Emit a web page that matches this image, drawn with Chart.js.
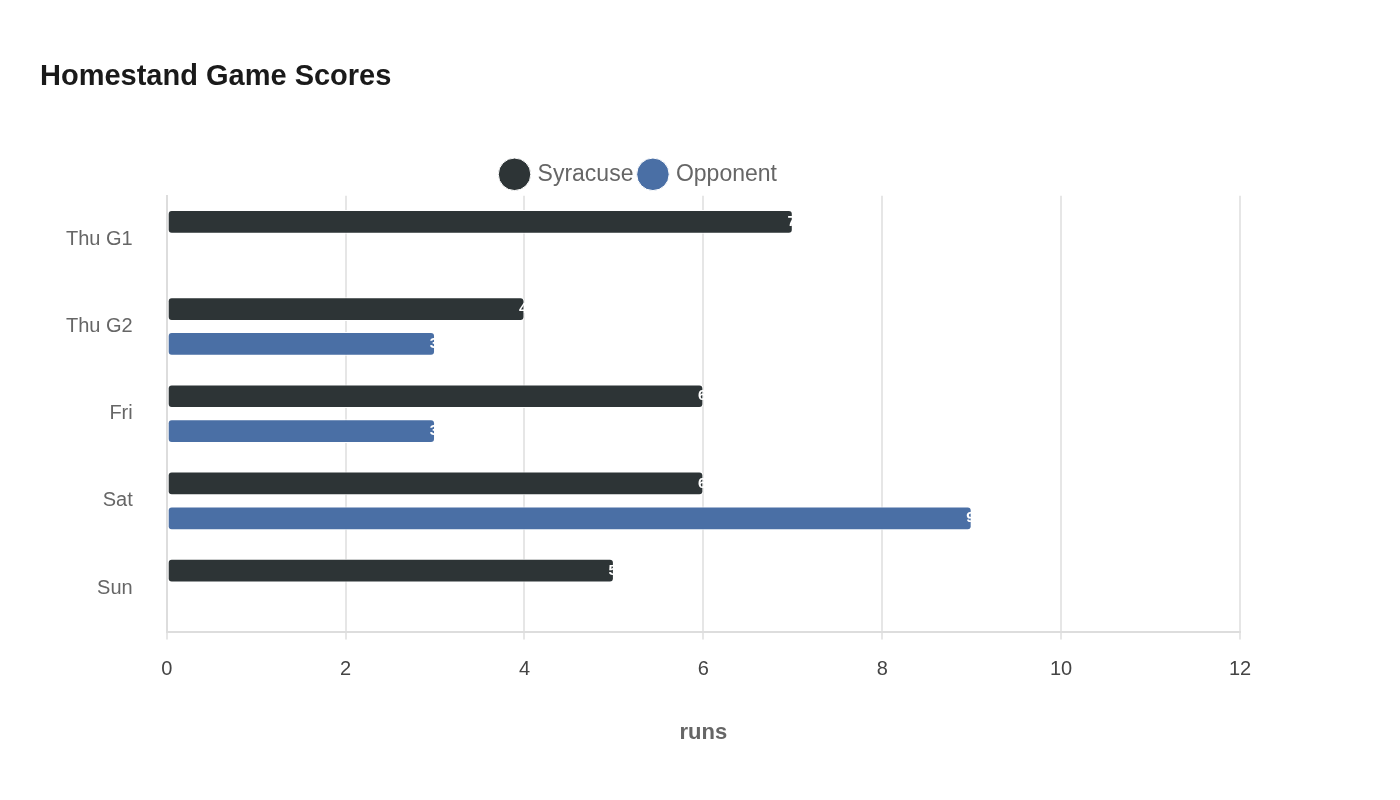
<!DOCTYPE html>
<html lang="en">
<head>
  <meta charset="UTF-8">
  <title>Homestand Game Scores</title>
  <script src="https://cdn.jsdelivr.net/npm/chart.js"></script>
  <style>
    body { margin: 0; background: #fff; }
  </style>
</head>
<body>
  <canvas id="scoreChart" width="1400" height="800"></canvas>
  <script>
    const games = ['Thu G1', 'Thu G2', 'Fri', 'Sat', 'Sun'];
    const syracuseRuns = [7, 4, 6, 6, 5];
    const opponentRuns = [0, 3, 3, 9, 0];
    const xTicks = [0, 2, 4, 6, 8, 10, 12];

    // value text sitting on the end of each bar
    const endLabels = {
      id: 'endLabels',
      afterDatasetsDraw(chart) {
        const ctx = chart.ctx;
        ctx.save();
        ctx.font = 'bold 15px "Liberation Sans", Arial, sans-serif';
        ctx.fillStyle = '#ffffff';
        ctx.textAlign = 'right';
        ctx.textBaseline = 'middle';
        chart.data.datasets.forEach((ds, i) => {
          chart.getDatasetMeta(i).data.forEach((bar, j) => {
            if (ds.data[j] > 0) ctx.fillText(ds.data[j], bar.x + 3, bar.y);
          });
        });
        ctx.restore();
      }
    };

    new Chart(document.getElementById('scoreChart').getContext('2d'), {
      type: 'bar',
      data: {
        labels: games,
        datasets: [
          { label: 'Syracuse', data: syracuseRuns, backgroundColor: '#2d3436' },
          { label: 'Opponent', data: opponentRuns, backgroundColor: '#4a6fa5' }
        ]
      },
      options: {
        indexAxis: 'y',
        responsive: false,
        animation: false,
        devicePixelRatio: 1,
        layout: { padding: { left: 40, right: 160, top: 40, bottom: 50 } },
        datasets: {
          bar: {
            borderRadius: 4,
            borderSkipped: false,
            borderColor: '#ffffff',
            borderWidth: 1,
            categoryPercentage: 0.8,
            barPercentage: 0.68
          }
        },
        plugins: {
          title: {
            display: true,
            text: 'Homestand Game Scores',
            align: 'start',
            color: '#1a1a1a',
            font: { family: '"Liberation Sans", Arial, sans-serif', size: 29, weight: 'bold' },
            padding: { top: 20, bottom: 60 }
          },
          legend: {
            labels: {
              usePointStyle: true,
              pointStyle: 'circle',
              boxWidth: 34,
              boxHeight: 34,
              color: '#666666',
              font: { family: '"Liberation Sans", Arial, sans-serif', size: 23 },
              padding: 8
            }
          },
          tooltip: { enabled: false }
        },
        scales: {
          x: {
            min: 0, max: 12,
            afterBuildTicks: axis => { axis.ticks = xTicks.map(v => ({ value: v })); },
            grid: { color: '#e6e6e6', lineWidth: 2 },
            border: { color: '#dddddd', width: 2 },
            ticks: { color: '#444444', padding: 18, font: { family: '"Liberation Sans", Arial, sans-serif', size: 20 } },
            title: {
              display: true, text: 'runs', color: '#666666', padding: { top: 20 },
              font: { family: '"Liberation Sans", Arial, sans-serif', size: 22, weight: 'bold' }
            }
          },
          y: {
            grid: { display: false },
            border: { color: '#dddddd', width: 2 },
            ticks: { color: '#666666', padding: 26, font: { family: '"Liberation Sans", Arial, sans-serif', size: 20 } }
          }
        }
      },
      plugins: [endLabels]
    });
  </script>
</body>
</html>
